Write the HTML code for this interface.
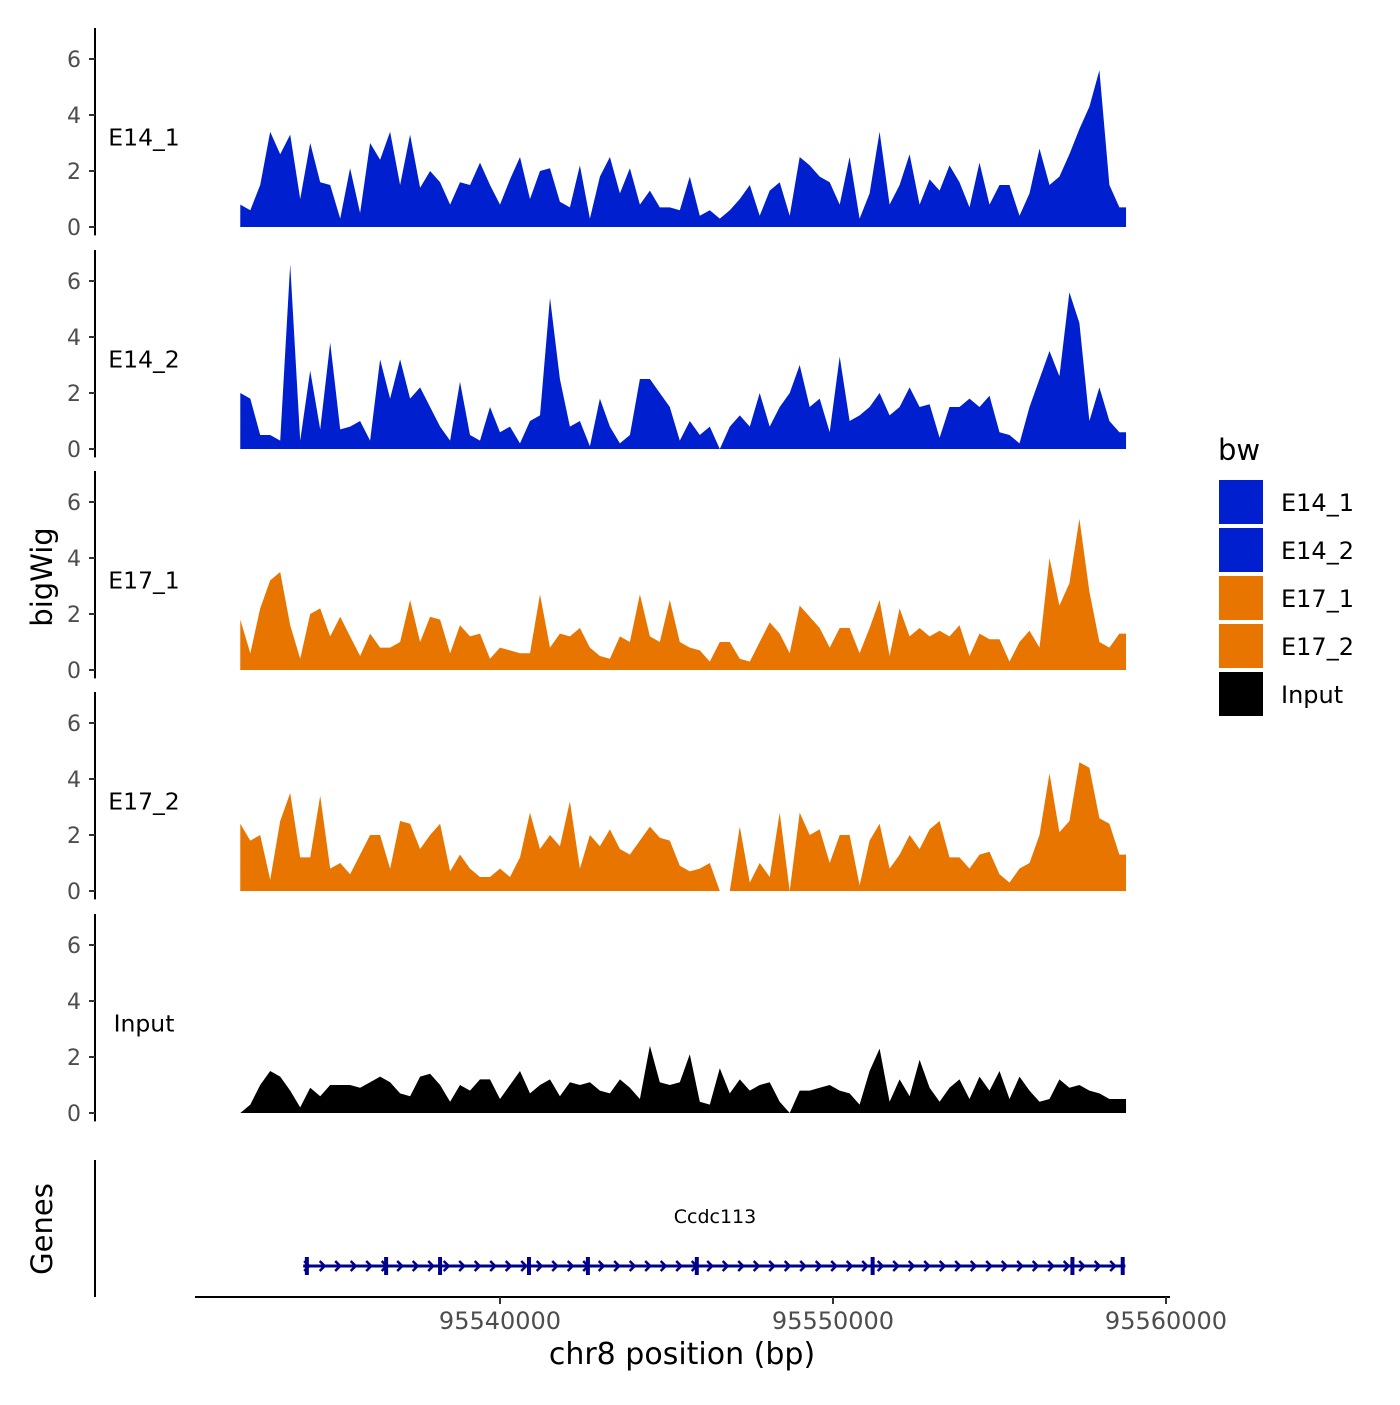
<!DOCTYPE html>
<html><head><meta charset="utf-8"><style>
body{margin:0;background:#fff}
svg text{font-family:"DejaVu Sans","Liberation Sans",sans-serif}
</style></head><body>
<svg id="chart" width="1400" height="1400" viewBox="0 0 1400 1400" xmlns="http://www.w3.org/2000/svg">
<g id="tracks"></g>
<g id="genes"></g>
<g id="xaxis"></g>
<text x="52" y="577" font-size="29" text-anchor="middle" transform="rotate(-90 52 577)">bigWig</text>
<text x="52" y="1229" font-size="29" text-anchor="middle" transform="rotate(-90 52 1229)">Genes</text>
<text x="682" y="1364" font-size="30" text-anchor="middle">chr8 position (bp)</text>
<g id="legend"></g>
</svg>
<script>
const trackNames = ["E14_1","E14_2","E17_1","E17_2","Input"];
const trackColors = ["#0020CF","#0020CF","#E87500","#E87500","#000000"];
const binStart = 95532200;
const binSize = 300;
const yTicks = [0,2,4,6];
const xTicks = [95540000,95550000,95560000];
const xTickLabels = ["95540000","95550000","95560000"];
const e14_1 = [0.8,0.6,1.5,3.4,2.6,3.3,1.0,3.0,1.6,1.5,0.3,2.1,0.5,3.0,2.4,3.4,1.5,3.3,1.4,2.0,1.6,0.8,1.6,1.5,2.3,1.5,0.8,1.7,2.5,1.0,2.0,2.1,0.9,0.7,2.2,0.3,1.8,2.5,1.2,2.1,0.8,1.3,0.7,0.7,0.6,1.8,0.4,0.6,0.3,0.6,1.0,1.5,0.4,1.3,1.6,0.4,2.5,2.2,1.8,1.6,0.8,2.5,0.3,1.2,3.4,0.8,1.5,2.6,0.8,1.7,1.3,2.2,1.6,0.7,2.3,0.8,1.5,1.5,0.4,1.2,2.8,1.5,1.8,2.6,3.5,4.3,5.6,1.5,0.7];
const e14_2 = [2.0,1.8,0.5,0.5,0.3,6.6,0.3,2.8,0.7,3.8,0.7,0.8,1.0,0.3,3.2,1.8,3.2,1.8,2.2,1.5,0.8,0.3,2.4,0.5,0.3,1.5,0.6,0.8,0.2,1.0,1.2,5.4,2.5,0.8,1.0,0.1,1.8,0.8,0.2,0.5,2.5,2.5,2.0,1.5,0.3,1.0,0.5,0.8,0,0.8,1.2,0.8,2.0,0.8,1.5,2.0,3.0,1.5,1.8,0.6,3.3,1.0,1.2,1.5,2.0,1.2,1.5,2.2,1.5,1.6,0.4,1.5,1.5,1.8,1.5,1.9,0.6,0.5,0.2,1.5,2.5,3.5,2.6,5.6,4.5,1.0,2.2,1.0,0.6];
const e17_1 = [1.8,0.6,2.2,3.2,3.5,1.6,0.4,2.0,2.2,1.2,1.9,1.2,0.5,1.3,0.8,0.8,1.0,2.5,1.0,1.9,1.8,0.6,1.6,1.2,1.3,0.4,0.8,0.7,0.6,0.6,2.7,0.8,1.3,1.2,1.5,0.8,0.5,0.4,1.2,1.0,2.7,1.2,1.0,2.5,1.0,0.8,0.7,0.3,1.0,1.0,0.4,0.3,1.0,1.7,1.3,0.6,2.3,1.9,1.5,0.8,1.5,1.5,0.6,1.5,2.5,0.5,2.2,1.2,1.5,1.2,1.4,1.2,1.6,0.5,1.3,1.1,1.1,0.3,1.0,1.4,0.8,4.0,2.3,3.1,5.4,2.8,1.0,0.8,1.3];
const e17_2 = [2.4,1.8,2.0,0.4,2.5,3.5,1.2,1.2,3.4,0.8,1.0,0.6,1.3,2.0,2.0,0.8,2.5,2.4,1.5,2.0,2.4,0.7,1.3,0.8,0.5,0.5,0.8,0.5,1.2,2.8,1.5,2.0,1.6,3.2,0.8,2.0,1.6,2.2,1.5,1.3,1.8,2.3,1.9,1.8,0.9,0.7,0.8,1.0,0,0,2.3,0.3,1.0,0.5,2.8,0,2.8,2.0,2.2,1.0,2.0,2.0,0.2,1.8,2.4,0.8,1.3,2.0,1.5,2.2,2.5,1.2,1.2,0.8,1.3,1.4,0.6,0.3,0.8,1.0,2.0,4.2,2.1,2.5,4.6,4.4,2.6,2.4,1.3];
const input = [0,0.3,1.0,1.5,1.3,0.8,0.2,0.9,0.6,1.0,1.0,1.0,0.9,1.1,1.3,1.1,0.7,0.6,1.3,1.4,1.0,0.4,1.0,0.8,1.2,1.2,0.5,1.0,1.5,0.7,1.0,1.2,0.6,1.1,1.0,1.1,0.8,0.7,1.2,0.9,0.5,2.4,1.1,1.0,1.1,2.1,0.4,0.3,1.6,0.7,1.2,0.8,1.0,1.1,0.4,0,0.8,0.8,0.9,1.0,0.8,0.7,0.3,1.5,2.3,0.4,1.2,0.6,1.9,0.9,0.4,0.9,1.2,0.5,1.3,0.8,1.5,0.5,1.3,0.8,0.4,0.5,1.2,0.9,1.0,0.8,0.7,0.5,0.5];
const regionEnd = 95558800;
const trackValues = [e14_1,e14_2,e17_1,e17_2,input];
const geneName = "Ccdc113";
const geneStart = 95534090;
const geneEnd = 95558780;
const exonStarts = [95534200,95536580,95538200,95540870,95542640,95545910,95551190,95557190,95558700];

const NS="http://www.w3.org/2000/svg";
function mk(tag,attrs,parent){const e=document.createElementNS(NS,tag);for(const k in attrs)e.setAttribute(k,attrs[k]);parent.appendChild(e);return e;}
const xScale = bp => 500 + (bp-95540000)*333/10000;
const baselines = [227,449,670,891,1113];
const yScale = (v,i) => baselines[i] - v*28;

const tg=document.getElementById('tracks');
trackValues.forEach((vals,i)=>{
  const g=mk('g',{},tg);
  
  
  let d='M'+xScale(binStart)+','+yScale(0,i);
  vals.forEach((v,j)=>{d+=' L'+xScale(binStart+j*binSize).toFixed(1)+','+yScale(v,i).toFixed(1);});
  d+=' L'+xScale(regionEnd)+','+yScale(vals[vals.length-1],i).toFixed(1)+' L'+xScale(regionEnd)+','+yScale(0,i)+' Z';
  const p=mk('path',{d:d,fill:trackColors[i]},g);
  
  
  const ax=mk('line',{x1:95,x2:95,y1:yScale(7,i)-3,y2:yScale(-0.3,i),stroke:'#000','stroke-width':2},g);
  
  
  yTicks.forEach(t=>{
    mk('line',{x1:89,x2:95,y1:yScale(t,i),y2:yScale(t,i),stroke:'#333','stroke-width':2},g);
    const tl=mk('text',{x:81,y:yScale(t,i)+8,'font-size':22,fill:'#4d4d4d','text-anchor':'end'},g);
    tl.textContent=t;
    
    
  });
  const lb=mk('text',{x:144,y:yScale(3.2,i)+8,'font-size':23.5,'text-anchor':'middle'},g);
  lb.textContent=trackNames[i];
  
  
});

const gg=document.getElementById('genes');
const ga=mk('line',{x1:95,x2:95,y1:1160,y2:1297,stroke:'#000','stroke-width':2},gg);


const gl=mk('line',{x1:xScale(geneStart),x2:xScale(geneEnd),y1:1266,y2:1266,stroke:'#00008B','stroke-width':3},gg);


for(let x=xScale(geneStart)+4;x<xScale(geneEnd);x+=15.5){
  mk('polyline',{points:(x-3)+',1261 '+(x+2)+',1266 '+(x-3)+',1271',fill:'none',stroke:'#00008B','stroke-width':2.5},gg);
}
exonStarts.forEach(s=>{
  const r=mk('rect',{x:xScale(s)-2,y:1257,width:4,height:18,fill:'#00008B'},gg);
  
  
});
const gt=mk('text',{x:715,y:1223,'font-size':19,'text-anchor':'middle'},gg);
gt.textContent=geneName;



const xg=document.getElementById('xaxis');
mk('line',{x1:195,x2:1170,y1:1297,y2:1297,stroke:'#000','stroke-width':2},xg);
xTicks.forEach((t,k)=>{
  mk('line',{x1:xScale(t),x2:xScale(t),y1:1297,y2:1304,stroke:'#333','stroke-width':2},xg);
  const tl=mk('text',{x:xScale(t),y:1329,'font-size':24,fill:'#4d4d4d','text-anchor':'middle'},xg);
  tl.textContent=xTickLabels[k];
  
  
});

const lg=document.getElementById('legend');
const lt=mk('text',{x:1218,y:460,'font-size':29},lg);
lt.textContent='bw';


trackNames.forEach((n,i)=>{
  const r=mk('rect',{x:1219,y:480+i*48,width:44,height:44,fill:trackColors[i]},lg);
  
  
  const t=mk('text',{x:1281,y:511+i*48,'font-size':24},lg);
  t.textContent=n;
  
  
});
</script>
</body></html>
